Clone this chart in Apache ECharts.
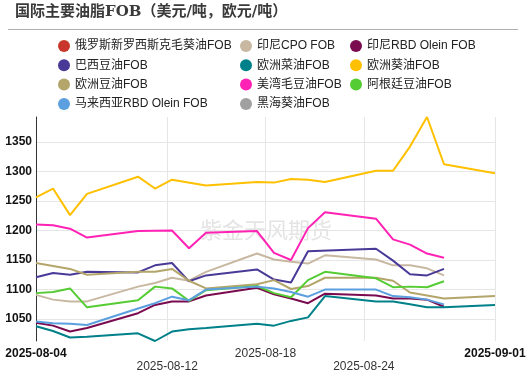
<!DOCTYPE html>
<html>
<head>
<meta charset="utf-8">
<script src="https://cdn.jsdelivr.net/npm/echarts@6/dist/echarts.min.js"></script>
<style>html,body{margin:0;padding:0;background:#fff}#c{width:531px;height:373px}</style>
</head>
<body>
<div id="c"></div>
<script>
// Trading calendar (one slot per calendar day, weekends empty)
const dates = ['2025-08-05','2025-08-06','2025-08-07','2025-08-08','2025-08-09','2025-08-10','2025-08-11','2025-08-12','2025-08-13','2025-08-14','2025-08-15','2025-08-16','2025-08-17','2025-08-18','2025-08-19','2025-08-20','2025-08-21','2025-08-22','2025-08-23','2025-08-24','2025-08-25','2025-08-26','2025-08-27','2025-08-28','2025-08-29','2025-08-30','2025-08-31','2025-09-01'];
const tickLabels = ['2025-08-04','2025-08-12','2025-08-18','2025-08-24','2025-09-01'];
const axisStart = '2025-08-04';
const axisEnd = '2025-09-01';

const ruSunflower = [];
const idCPO = [1091,1083,1080,1080,null,null,1105,1111,1120,1115,1130,null,null,1161,1151,1147,1144,1158,null,null,1151,1141,1141,1136,1124,null,null,null];
const idOlein = [1044,1039,1029,1035,null,null,1060,1074,1080,1080,1090,null,null,1103,1092,1085,1077,1093,null,null,1090,1085,1085,1083,1071,null,null,null];
const brSoy = [1121,1128,1125,1130,null,null,1129,1141,1145,1114,1124,null,null,1134,1117,1112,1165,null,null,null,1169,1149,1126,1124,1135,null,null,null];
const euRape = [1038,1030,1019,1020,null,null,1026,1013,1029,1033,1035,null,null,1042,1039,1047,1053,1089,null,null,1080,1080,1075,1070,1070,null,null,1074];
const euSunflower = [1256,1271,1226,1262,null,null,1291,1271,1286,null,1276,null,null,1282,1281,1287,1286,1282,null,null,1301,1301,1342,1392,1312,null,null,1297];
const euSoy = [1145,1140,1135,1125,null,null,1130,1130,1135,1115,1102,null,null,1109,1116,1101,1106,1120,null,null,1120,1115,1095,1090,1085,null,null,1089];
const usSoy = [1210,1209,1203,1188,null,null,1199,null,1200,1170,1196,null,null,1199,1162,1150,1204,1231,null,null,1220,1185,1176,1161,1154,null,null,null];
const arSoy = [1094,1096,1102,1070,null,null,1082,1105,1102,1081,1099,null,null,1106,1094,1087,1116,1130,null,null,1119,1104,1105,1104,1114,null,null,null];
const myOlein = [1046,1043,1042,1040,null,null,1068,1077,1088,1082,1100,null,null,1105,1102,1096,1088,1100,null,null,1100,1089,1087,1083,1075,null,null,null];
const bsSunflower = [];

const seriesDefs = [
  {name:'俄罗斯新罗西斯克毛葵油FOB', data:ruSunflower, color:'#c9372c'},
  {name:'印尼CPO FOB', data:idCPO, color:'#c8b8a2'},
  {name:'印尼RBD Olein FOB', data:idOlein, color:'#7a0b4f'},
  {name:'巴西豆油FOB', data:brSoy, color:'#4a3a98'},
  {name:'欧洲菜油FOB', data:euRape, color:'#00818a'},
  {name:'欧洲葵油FOB', data:euSunflower, color:'#ffc000'},
  {name:'欧洲豆油FOB', data:euSoy, color:'#b4a56b'},
  {name:'美湾毛豆油FOB', data:usSoy, color:'#ff22b4'},
  {name:'阿根廷豆油FOB', data:arSoy, color:'#55cc33'},
  {name:'马来西亚RBD Olein FOB', data:myOlein, color:'#5b9fdf'},
  {name:'黑海葵油FOB', data:bsSunflower, color:'#a0a0a0'}
];

function toTime(s){const p=s.split('-').map(Number);return new Date(p[0],p[1]-1,p[2]).getTime();}
function fmt(t){const d=new Date(t);const m=d.getMonth()+1,dd=d.getDate();return d.getFullYear()+'-'+(m<10?'0':'')+m+'-'+(dd<10?'0':'')+dd;}

const FONT = '"Liberation Sans", Arial, "Noto Sans CJK SC", sans-serif';
const legendText = {fontSize:12, color:'#222', fontFamily:FONT};
function legendCol(names, left){
  return {orient:'vertical', left:left, top:35, itemWidth:12, itemHeight:12, itemGap:7.3, icon:'circle',
    textStyle:legendText, data:names, selectedMode:false};
}

const chart = echarts.init(document.getElementById('c'), null, {renderer:'canvas'});
chart.setOption({
  animation:false,
  backgroundColor:'#fff',
  graphic:[
    {type:'text', left:15, top:5, style:{text:'国际主要油脂FOB（美元/吨，欧元/吨）', fontSize:15, fontWeight:'bold', fill:'#3a3a3a', fontFamily:'"DejaVu Serif", "Noto Sans CJK SC", serif'}},
    {type:'line', shape:{x1:8, y1:29.5, x2:518, y2:29.5}, style:{stroke:'#b0b0b0', lineWidth:1}},
    {type:'text', x:266, y:230, z:0, style:{text:'紫金天风期货', fontSize:22, fill:'#e4e4e4', align:'center', verticalAlign:'middle', fontFamily:'"Noto Sans CJK SC", sans-serif'}}
  ],
  legend:[
    legendCol([seriesDefs[0].name, seriesDefs[3].name, seriesDefs[6].name, seriesDefs[9].name], 53),
    legendCol([seriesDefs[1].name, seriesDefs[4].name, seriesDefs[7].name, seriesDefs[10].name], 235),
    legendCol([seriesDefs[2].name, seriesDefs[5].name, seriesDefs[8].name], 345)
  ],
  grid:{left:36, right:36, top:117, bottom:32, containLabel:false},
  xAxis:[
    {type:'category', data:dates, boundaryGap:false, show:false, position:'top'},
    {type:'value', position:'bottom', min:toTime(axisStart), max:toTime(axisEnd),
      axisLine:{show:false},
      axisTick:{show:false, customValues:tickLabels.map(toTime)},
      splitLine:{show:true, lineStyle:{color:'#e6e6e6', width:1}},
      axisLabel:{customValues:tickLabels.map(toTime), margin:6, lineHeight:13, fontSize:12, fontFamily:FONT, hideOverlap:false,
        formatter:function(v){
          const s = fmt(v);
          const k = tickLabels.indexOf(s);
          const edge = (k === 0 || k === tickLabels.length - 1);
          return (k % 2 === 1 ? '\n' : '') + '{' + (edge ? 'b' : 'n') + '|' + s + '}';
        },
        rich:{
          b:{fontWeight:'bold', color:'#111', fontSize:12, lineHeight:13, fontFamily:FONT},
          n:{color:'#333', fontSize:12, lineHeight:13, fontFamily:FONT}
        }
      }
    }
  ],
  yAxis:{type:'value', min:'dataMin', max:'dataMax', splitNumber:8, scale:true,
    axisLine:{show:true, lineStyle:{color:'#333', width:1}},
    axisTick:{show:false},
    axisLabel:{showMinLabel:false, showMaxLabel:false, fontSize:12, fontWeight:'bold', color:'#111', margin:4, fontFamily:FONT,
      formatter:function(v){return String(v);}},
    splitLine:{show:true, showMinLine:false, showMaxLine:false, lineStyle:{color:'#e6e6e6', width:1}}
  },
  series: seriesDefs.map(d => ({
    name:d.name, type:'line', xAxisIndex:0, data:d.data, connectNulls:true, showSymbol:false, symbol:'none',
    itemStyle:{color:d.color}, lineStyle:{color:d.color, width:2}
  }))
});
</script>
</body>
</html>
